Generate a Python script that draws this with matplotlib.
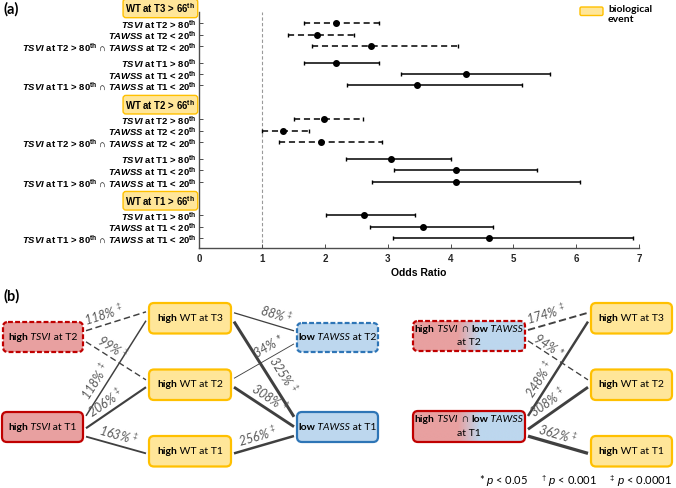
import numpy as np
import matplotlib.pyplot as plt
import matplotlib.transforms as mtransforms
from matplotlib.patches import FancyBboxPatch
from matplotlib.colors import to_rgb

plt.rcParams['font.family'] = ['Liberation Sans', 'DejaVu Sans']
plt.rcParams['mathtext.fontset'] = 'custom'
plt.rcParams['mathtext.rm'] = 'Liberation Sans'
plt.rcParams['mathtext.it'] = 'Liberation Sans:italic'
plt.rcParams['mathtext.bf'] = 'Liberation Sans:bold'
plt.rcParams['mathtext.bfit'] = 'Liberation Sans:italic:bold'

# ---- panel (a) data: odds ratios with 95% CI ----
outcomes = ["WT at T3 > 66", "WT at T2 > 66", "WT at T1 > 66"]

pred_t3 = [("TSVI", "T2", ">", "80"), ("TAWSS", "T2", "<", "20"), ("both", "T2", "", ""),
           ("TSVI", "T1", ">", "80"), ("TAWSS", "T1", "<", "20"), ("both", "T1", "", "")]
or_t3 = [2.17, 1.87, 2.73, 2.17, 4.24, 3.47]
lo_t3 = [1.66, 1.42, 1.80, 1.66, 3.21, 2.35]
hi_t3 = [2.86, 2.46, 4.12, 2.86, 5.59, 5.13]

pred_t2 = pred_t3
or_t2 = [1.98, 1.33, 1.93, 3.05, 4.08, 4.08]
lo_t2 = [1.50, 1.00, 1.27, 2.33, 3.10, 2.75]
hi_t2 = [2.60, 1.75, 2.91, 4.00, 5.37, 6.06]

pred_t1 = pred_t3[3:]
or_t1 = [2.62, 3.56, 4.61]
lo_t1 = [2.01, 2.71, 3.08]
hi_t1 = [3.44, 4.68, 6.90]

# ---- panel (b) data: percent increase of odds and significance ----
edge_from = ["tsvi2", "tsvi2", "tsvi1", "tsvi1", "tsvi1", "wt3", "wt2", "wt3", "wt2", "wt1",
             "both2", "both2", "both1", "both1", "both1"]
edge_to = ["wt3", "wt2", "wt3", "wt2", "wt1", "tawss2", "tawss2", "tawss1", "tawss1", "tawss1",
           "wt3r", "wt2r", "wt3r", "wt2r", "wt1r"]
edge_pct = [118, 99, 118, 206, 163, 88, 34, 325, 308, 256, 174, 94, 248, 308, 362]
edge_sig = ["‡", "‡", "‡", "‡", "‡", "‡", "*", "‡", "‡", "‡", "‡", "*", "‡", "‡", "‡"]


def pred_label(p):
    var, t, cmp, pct = p
    if var == "both":
        return (pred_label(("TSVI", t, ">", "80")) + " \u2229 "
                + pred_label(("TAWSS", t, "<", "20")))
    return rf"$\mathbfit{{{var}}}$ at {t} {cmp} {pct}$^{{\mathbf{{th}}}}$"


fig = plt.figure(figsize=(6.76, 4.88), dpi=100)
ax = fig.add_axes([0.2948, 0.4918, 0.6505, 0.4836])

# row layout (in row units)
groups = [
    (-0.32, [1, 2, 3, 4.5, 5.5, 6.5], pred_t3, or_t3, lo_t3, hi_t3),
    (8.2, [9.5, 10.5, 11.5, 13, 14, 15], pred_t2, or_t2, lo_t2, hi_t2),
    (16.7, [18, 19, 20], pred_t1, or_t1, lo_t1, hi_t1),
]

ax.axvline(1, color='#999999', lw=0.8, ls=(0, (3, 2)), zorder=0)

hdr_tr = mtransforms.blended_transform_factory(ax.transAxes, ax.transData)
ticks, labels = [], []
for (hpos, pos, preds, vals, lo, hi), outc in zip(groups, outcomes):
    ax.text(-0.009, hpos, outc + r"$^{\mathbf{th}}$", transform=hdr_tr, ha='right',
            va='center', fontsize=6.9, fontweight='bold', clip_on=False,
            bbox=dict(boxstyle='round,pad=0.25,rounding_size=0.3',
                      fc='#FFE699', ec='#FFC000', lw=1.0))
    for p, y, v, l, h in zip(preds, pos, vals, lo, hi):
        eb = ax.errorbar(v, y, xerr=[[v - l], [h - v]], fmt='o', color='k', ms=4,
                         capsize=1.5, elinewidth=1.1, capthick=1.0)
        if p[1] == "T2":
            eb[2][0].set_linestyle((0, (4, 2.5)))
        ticks.append(y)
        labels.append(pred_label(p))

ax.set_yticks(ticks)
ax.set_yticklabels(labels, fontsize=6.8, fontweight='bold')
ax.set_ylim(20.88, 0)
ax.set_xlim(0, 7)
ax.set_xticks(range(8))
ax.tick_params(axis='both', direction='in', length=3, width=0.7, colors='#4d4d4d')
ax.tick_params(axis='y', pad=2, labelcolor='k')
ax.tick_params(axis='x', pad=4, labelcolor='#262626')
for t in ax.get_xticklabels():
    t.set_fontweight('bold')
    t.set_fontsize(7)
ax.set_xlabel("Odds Ratio", fontsize=7.5, fontweight='bold', labelpad=3)
for s in ['top', 'right']:
    ax.spines[s].set_visible(False)
for s in ['left', 'bottom']:
    ax.spines[s].set_color('#4d4d4d')
    ax.spines[s].set_linewidth(1.0)

# ---- overlay in pixel coordinates for panel (b) and annotations ----
ax2 = fig.add_axes([0, 0, 1, 1])
ax2.set_xlim(0, 676)
ax2.set_ylim(488, 0)
ax2.axis('off')

ax2.text(4, 9, "(a)", fontsize=10.5, fontweight='bold', family='Lato', va='center')
ax2.text(4, 296, "(b)", fontsize=10.5, fontweight='bold', family='Lato', va='center')

# legend of panel (a)
ax2.add_patch(FancyBboxPatch((580, 7), 23, 8.5, boxstyle='round,pad=0,rounding_size=1.5',
                             fc='#FFE699', ec='#FFC000', lw=1.0))
ax2.text(608, 5, "biological\nevent", fontsize=7.5, fontweight='bold', family='Lato',
         va='top', ha='left', linespacing=1.15)

# boxes: x0, y0, w, h, kind, dashed
boxes = {
    "tsvi2": (3, 322, 80, 30, "red", True),
    "tsvi1": (2, 412, 81, 30, "red", False),
    "wt3": (149, 303, 82, 30.5, "yellow", False),
    "wt2": (149, 369.5, 82, 30.5, "yellow", False),
    "wt1": (149, 436, 82, 30.5, "yellow", False),
    "tawss2": (297, 323, 81, 29, "blue", True),
    "tawss1": (297, 412, 81, 30, "blue", False),
    "both2": (413, 321, 112, 30, "grad", True),
    "both1": (413, 411, 112, 31, "grad", False),
    "wt3r": (591, 303, 81, 30.5, "yellow", False),
    "wt2r": (591, 369.5, 81, 30.5, "yellow", False),
    "wt1r": (591, 436, 81, 30.5, "yellow", False),
}
fills = {"red": '#E8A0A0', "blue": '#BDD7EE', "yellow": '#FFE699'}
edges = {"red": '#C00000', "blue": '#2E75B6', "yellow": '#FFC000', "grad": '#C00000'}

B = dict(fontweight='bold')
I = dict(fontstyle='italic')
R = dict()
box_text = {
    "tsvi2": [[("high", B), (" TSVI", I), (" at T2", R)]],
    "tsvi1": [[("high", B), (" TSVI", I), (" at T1", R)]],
    "tawss2": [[("low", B), (" TAWSS", I), (" at T2", R)]],
    "tawss1": [[("low", B), (" TAWSS", I), (" at T1", R)]],
    "both2": [[("high", B), (" TSVI", I), ("  \u2229 ", R), ("low", B), (" TAWSS", I)],
              [("at T2", R)]],
    "both1": [[("high", B), (" TSVI", I), ("  \u2229 ", R), ("low", B), (" TAWSS", I)],
              [("at T1", R)]],
}
for k in ["wt3", "wt2", "wt1", "wt3r", "wt2r", "wt1r"]:
    box_text[k] = [[("high", B), (" WT at T" + k[2], R)]]

rich_groups = []


def rich(x, y, parts, size=7.5):
    objs = [ax2.text(x, y, parts[0][0], fontsize=size, va='center', ha='left',
                     family='Lato', **parts[0][1])]
    for s, kw in parts[1:]:
        objs.append(ax2.annotate(s, xy=(1, 0), xycoords=objs[-1], va='bottom', ha='left',
                                 fontsize=size, family='Lato', **kw))
    rich_groups.append((x, objs))


red_rgb, blue_rgb = np.array(to_rgb(fills["red"])), np.array(to_rgb(fills["blue"]))
for name, (x0, y0, w, h, kind, dashed) in boxes.items():
    ls = (0, (2.2, 1.0)) if dashed else '-'
    patch = FancyBboxPatch((x0, y0), w, h, boxstyle='round,pad=0,rounding_size=5',
                           fc=fills.get(kind, 'none'), ec=edges[kind], lw=1.6, ls=ls, zorder=3)
    ax2.add_patch(patch)
    if kind == "grad":
        f = np.interp(np.linspace(0, 1, 256), [0, 0.4, 0.6, 1], [0, 0, 1, 1])
        img = (1 - f)[:, None] * red_rgb + f[:, None] * blue_rgb
        im = ax2.imshow(img[None, :, :], extent=(x0, x0 + w, y0 + h, y0), aspect='auto',
                        zorder=2)
        clip = FancyBboxPatch((x0, y0), w, h, boxstyle='round,pad=0,rounding_size=5',
                              transform=ax2.transData, fc='none', ec='none')
        im.set_clip_path(clip)
    lines = box_text[name]
    cy = y0 + h / 2
    offs = [0] if len(lines) == 1 else [-6.5, 6.5]
    for parts, dy in zip(lines, offs):
        rich(x0 + w / 2, cy + dy, parts)

ax2.set_xlim(0, 676)
ax2.set_ylim(488, 0)

# edge anchors (fraction of box height at source right side / target left side)
anchor_src = [0.29, 0.66, 0.13, 0.54, 0.82, 0.32, 0.29, 0.61, 0.58, 0.57, 0.30, 0.66, 0.16, 0.59, 0.81]
anchor_dst = [0.29, 0.34, 0.58, 0.58, 0.57, 0.27, 0.72, 0.16, 0.49, 0.80, 0.32, 0.34, 0.61, 0.58, 0.57]
label_t = [0.34, 0.36, 0.31, 0.42, 0.5, 0.66, 0.66, 0.63, 0.5, 0.44, 0.34, 0.28, 0.33, 0.43, 0.45]
label_d = [10, 9.5, 10, 10, 10, 10, 10, 13, 10, 10, 10, 7, 10, 10, 10]

for i, (a, b, pct, sig) in enumerate(zip(edge_from, edge_to, edge_pct, edge_sig)):
    ax0, ay0, aw, ah = boxes[a][:4]
    bx0, by0, bw, bh = boxes[b][:4]
    p0 = np.array([ax0 + aw + 3, ay0 + anchor_src[i] * ah])
    p1 = np.array([bx0 - 3, by0 + anchor_dst[i] * bh])
    lw = 0.45 + pct / 190
    dashed = boxes[a][5]
    if dashed:
        dash, gap = 2.5 + 2 * lw, 2.5
        ls = (0, (dash / lw, gap / lw))
    else:
        ls = '-'
    ax2.plot([p0[0], p1[0]], [p0[1], p1[1]], color='#404040', lw=lw, ls=ls,
             solid_capstyle='butt', zorder=1)
    d = p1 - p0
    th = np.arctan2(-d[1], d[0])
    pt = p0 + label_t[i] * d + label_d[i] * np.array([-np.sin(th), -np.cos(th)])
    s = f"{pct}%" + (r" $^{‡}$" if sig == "‡" else " *")
    ax2.text(pt[0], pt[1], s, rotation=np.degrees(th), rotation_mode='anchor',
             ha='center', va='center', fontsize=9, style='italic', color='#595959',
             family='Lato', zorder=4)

ax2.text(672, 481, r"* $\mathit{p}$ < 0.05     $^{†}$ $\mathit{p}$ < 0.001     $^{‡}$ $\mathit{p}$ < 0.0001",
         ha='right', va='center', fontsize=8, family='Lato')

fig.canvas.draw()
r = fig.canvas.get_renderer()
for x, objs in rich_groups:
    w = objs[-1].get_window_extent(r).x1 - objs[0].get_window_extent(r).x0
    objs[0].set_x(x - w / 2)

fig.savefig("out.png", dpi=100)
